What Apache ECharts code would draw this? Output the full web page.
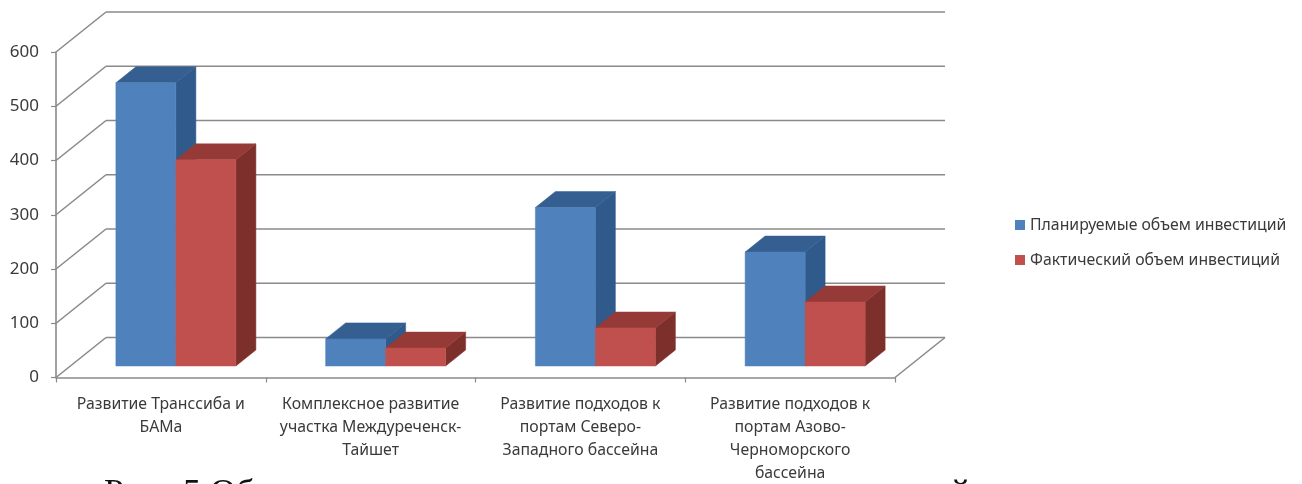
<!DOCTYPE html>
<html>
<head>
<meta charset="utf-8">
<style>
html,body{margin:0;padding:0;background:#fff;overflow:hidden}
#c{width:1302px;height:484px;filter:blur(0.5px)}
</style>
<script src="https://cdn.jsdelivr.net/npm/echarts@6/dist/echarts.min.js"></script>
</head>
<body>
<div id="c"></div>
<script>
const categories = [
  "Развитие Транссиба и\nБАМа",
  "Комплексное развитие\nучастка Междуреченск-\nТайшет",
  "Развитие подходов к\nпортам Северо-\nЗападного бассейна",
  "Развитие подходов к\nпортам Азово-\nЧерноморского\nбассейна"
];
const seriesNames = ["Планируемые объем инвестиций", "Фактический объем инвестиций"];
const planned = [522, 50, 292, 210];
const actual = [380, 33, 70, 118];
const yTicks = [0, 100, 200, 300, 400, 500, 600];
const captionWords = ["Рис.", "5", "Об", "й"];
const captionLefts = [104, 183, 210, 951];

const FRONT = ["#4f81bd", "#c0504d"];
const TOP = ["#355f91", "#963a37"];
const SIDE = ["#2f5a8b", "#7d2f2c"];
const TEXT = "#3a3a3a";
const LINE = "#8a8a8a";
const WALL_DX = 50, WALL_DY = -40;
const BAR_W = 60, PLANE_DX = 15, PLANE_DY = -11.5, BAR_DX = 20, BAR_DY = -16;

function poly(points, fill) {
  return { type: "polygon", shape: { points }, style: { fill, stroke: fill, lineWidth: 0.5 } };
}

function barRenderer(idx) {
  return function (params, api) {
    const cat = api.value(0);
    const base = api.coord([cat, 0]);
    const top = api.coord([cat, api.value(1)]);
    const x0 = base[0] + PLANE_DX + (idx - 1) * BAR_W;
    const x1 = x0 + BAR_W;
    const yb = base[1] + PLANE_DY;
    const yt = top[1] + PLANE_DY;
    return {
      type: "group",
      children: [
        poly([[x1, yb], [x1 + BAR_DX, yb + BAR_DY], [x1 + BAR_DX, yt + BAR_DY], [x1, yt]], SIDE[idx]),
        poly([[x0, yt], [x1, yt], [x1 + BAR_DX, yt + BAR_DY], [x0 + BAR_DX, yt + BAR_DY]], TOP[idx]),
        poly([[x0, yb], [x1, yb], [x1, yt], [x0, yt]], FRONT[idx])
      ]
    };
  };
}

function wallRenderer(params, api) {
  const cs = params.coordSys;
  const y = api.coord([0, api.value(0)])[1];
  const left = cs.x, right = cs.x + cs.width;
  const style = { stroke: LINE, lineWidth: 1.6, fill: null };
  const children = [
    { type: "line", shape: { x1: left, y1: y, x2: left + WALL_DX, y2: y + WALL_DY }, style },
    { type: "line", shape: { x1: left + WALL_DX, y1: y + WALL_DY, x2: right + WALL_DX, y2: y + WALL_DY }, style }
  ];
  if (api.value(0) === 0) {
    children.push({ type: "line", shape: { x1: right, y1: y, x2: right + WALL_DX, y2: y + WALL_DY }, style });
  }
  return { type: "group", children };
}

const chart = echarts.init(document.getElementById("c"));
chart.setOption({
  animation: false,
  backgroundColor: "#ffffff",
  grid: { left: 56, right: 407, top: 52, bottom: 106.5, outerBoundsMode: "none" },
  legend: {
    orient: "vertical",
    left: 1010,
    top: 212,
    itemWidth: 10,
    itemHeight: 10,
    itemGap: 19,
    icon: "rect",
    data: seriesNames,
    selectedMode: false,
    textStyle: { color: TEXT, fontFamily: "Noto Sans", fontSize: 15.8 }
  },
  xAxis: {
    type: "category",
    data: categories,
    axisLine: { lineStyle: { color: LINE, width: 1.6 } },
    axisTick: { show: true, length: 5, lineStyle: { color: LINE, width: 1.2 } },
    splitLine: { show: false },
    axisLabel: { color: TEXT, fontFamily: "Noto Sans", fontSize: 15.8, lineHeight: 23, margin: 15, interval: 0, hideOverlap: false }
  },
  yAxis: {
    type: "value",
    min: 0,
    max: 600,
    interval: 100,
    splitLine: { show: false },
    axisLine: { show: true, lineStyle: { color: LINE, width: 1.6 } },
    axisTick: { show: true, length: 5, lineStyle: { color: LINE, width: 1.2 } },
    axisLabel: { color: TEXT, fontFamily: "Noto Sans", fontSize: 17, margin: 17, padding: [5, 0, 0, 0] }
  },
  series: [
    {
      name: "walls",
      type: "custom",
      z: 1,
      silent: true,
      clip: false,
      renderItem: wallRenderer,
      encode: { y: 0 },
      data: yTicks.map(v => [v])
    },
    {
      name: seriesNames[0],
      type: "custom",
      z: 2,
      clip: false,
      itemStyle: { color: FRONT[0] },
      renderItem: barRenderer(0),
      encode: { x: 0, y: 1 },
      data: planned.map((v, i) => [i, v])
    },
    {
      name: seriesNames[1],
      type: "custom",
      z: 3,
      clip: false,
      itemStyle: { color: FRONT[1] },
      renderItem: barRenderer(1),
      encode: { x: 0, y: 1 },
      data: actual.map((v, i) => [i, v])
    }
  ],
  graphic: captionWords.map((t, i) => ({
    type: "text", left: captionLefts[i], top: 477,
    style: { text: t, fill: "#111", font: "36px 'Liberation Serif'" }
  }))
});
</script>
</body>
</html>
